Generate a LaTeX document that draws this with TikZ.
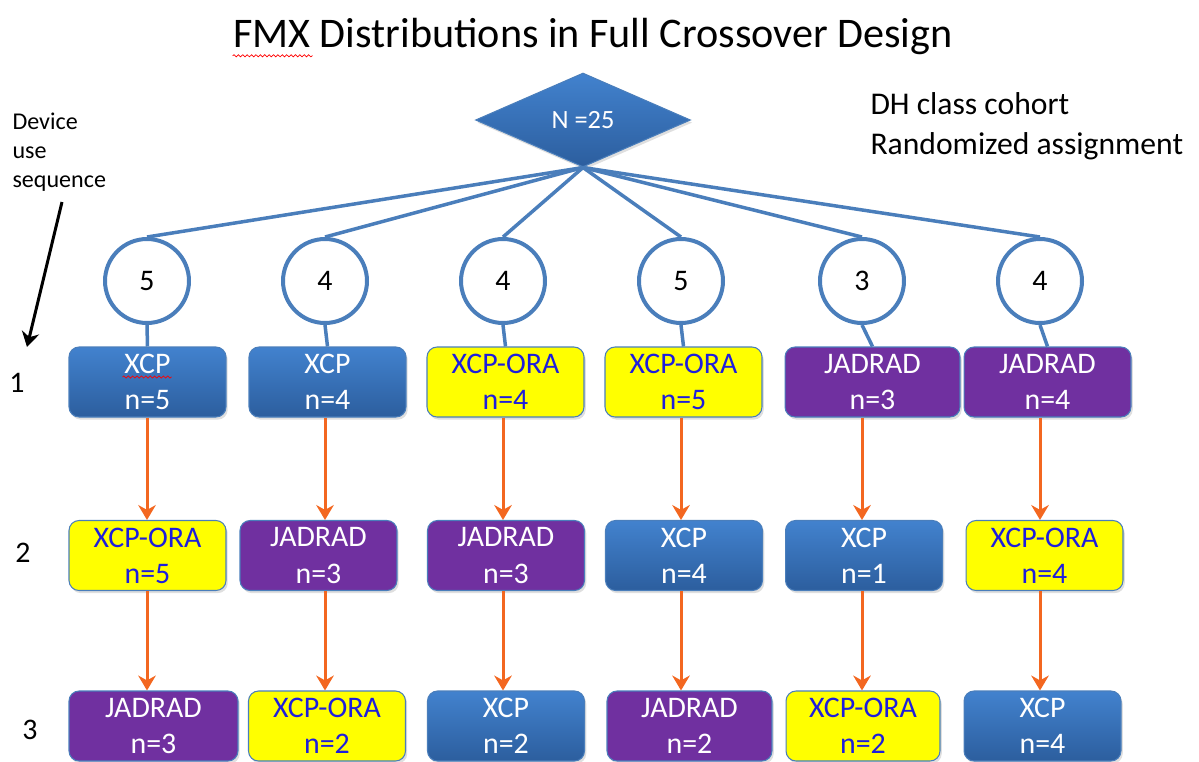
\documentclass[tikz,border=0pt]{standalone}
\usepackage{fontspec}
\setmainfont{Carlito}
\usetikzlibrary{arrows.meta, positioning, shapes.geometric, shadows, decorations.pathmorphing}

\definecolor{lineblue}{RGB}{74,126,187}
\definecolor{boxtop}{RGB}{66,130,206}
\definecolor{boxbot}{RGB}{44,94,158}
\definecolor{jadpurple}{RGB}{112,48,160}
\definecolor{orayellow}{RGB}{255,255,0}
\definecolor{oratext}{RGB}{30,30,220}
\definecolor{arroworange}{RGB}{243,103,32}

\begin{document}
\begin{tikzpicture}[
            > = {Stealth[length=8.5pt, width=10pt]},
            x = 0.02cm, y = -0.02cm,
            semithick
        ]
        \tikzstyle{every node}=[font=\fontsize{17}{20.5}\selectfont]
        \tikzstyle{device}=[
            rectangle,
            rounded corners = 0.2cm,
            draw = lineblue,
            line width = 0.6pt,
            minimum width = 3.14cm,
            minimum height = 1.4cm,
            inner sep = 0pt,
            align = center,
            drop shadow = {opacity=0.25, shadow xshift=1pt, shadow yshift=-1.5pt}
        ]
        \tikzstyle{xcpbox}=[device, top color=boxtop, bottom color=boxbot, text=white]
        \tikzstyle{orabox}=[device, fill=orayellow, text=oratext]
        \tikzstyle{jadbox}=[device, fill=jadpurple, text=white]
        \tikzstyle{arm}=[
            circle,
            draw = lineblue,
            line width = 0.08cm,
            fill = white,
            minimum size = 1.68cm,
            inner sep = 0pt
        ]
        \tikzstyle{total}=[
            diamond,
            draw = lineblue,
            top color = boxtop,
            bottom color = boxbot,
            text = white,
            minimum width = 4.3cm,
            minimum height = 1.88cm,
            inner sep = 0pt,
            font = \fontsize{15}{18}\selectfont,
            drop shadow = {opacity=0.25, shadow xshift=1pt, shadow yshift=-1.5pt}
        ]
        \tikzstyle{fanline}=[draw=lineblue, line width=0.07cm]
        \tikzstyle{seq}=[->, draw=arroworange, line width=0.06cm]
        \tikzstyle{typo}=[red, line width=0.4pt, decorate,
            decoration={snake, amplitude=0.6pt, segment length=2.5pt}]

        \useasboundingbox (0,0) rectangle (1199,761);

        % title and notes
        \node[font=\fontsize{24}{29}\selectfont, inner sep=0pt, anchor=base] (title) at (593,47)
            {FMX Distributions in Full Crossover Design};
        \draw[typo] ([yshift=-5pt]title.base west) -- ++(80,0);
        \node[align=left, anchor=north west, inner sep=0pt, font=\fontsize{18}{22.8}\selectfont]
            (cohort) at (870,92) {DH class cohort\\Randomized assignment};
        \node[align=left, anchor=north west, inner sep=0pt, font=\fontsize{13.7}{16.5}\selectfont]
            (dev) at (12,112) {Device\\use\\sequence};
        \coordinate (devtail) at (62,202);
        \coordinate (devtip) at (27,347);
        \draw[->, line width=0.06cm] (devtail) -- (devtip);

        % sequence numbers
        \node (s1) at (17,383) {1};
        \node (s2) at (23,553) {2};
        \node (s3) at (30,730) {3};

        % randomization
        \node[total] (N) at (583,120) {N =25};
        \node[arm] (a1) at (147,281) {5};
        \node[arm] (a2) at (325,281) {4};
        \node[arm] (a3) at (503,281) {4};
        \node[arm] (a4) at (681,281) {5};
        \node[arm] (a5) at (862,281) {3};
        \node[arm] (a6) at (1040,281) {4};

        % first device
        \node[xcpbox] (r1c1) at (147.5,382) {XCP\\n=5};
        \node[xcpbox] (r1c2) at (327.5,382) {XCP\\n=4};
        \node[orabox] (r1c3) at (505.5,382) {XCP-ORA\\n=4};
        \node[orabox] (r1c4) at (683.5,382) {XCP-ORA\\n=5};
        \node[jadbox, minimum width=3.5cm] (r1c5) at (872.5,382) {JADRAD\\n=3};
        \node[jadbox, minimum width=3.34cm] (r1c6) at (1047.5,382) {JADRAD\\n=4};
        \draw[typo] ([shift={(-25,-5)}]r1c1.center) -- ++(49,0);

        % second device
        \node[orabox] (r2c1) at (147.5,555.5) {XCP-ORA\\n=5};
        \node[jadbox] (r2c2) at (318.5,555.5) {JADRAD\\n=3};
        \node[jadbox] (r2c3) at (506,555.5) {JADRAD\\n=3};
        \node[xcpbox] (r2c4) at (684,555.5) {XCP\\n=4};
        \node[xcpbox] (r2c5) at (864,555.5) {XCP\\n=1};
        \node[orabox] (r2c6) at (1044.5,555.5) {XCP-ORA\\n=4};

        % third device
        \node[jadbox, minimum width=3.38cm] (r3c1) at (153.5,726) {JADRAD\\n=3};
        \node[orabox] (r3c2) at (327,726) {XCP-ORA\\n=2};
        \node[xcpbox] (r3c3) at (506,726) {XCP\\n=2};
        \node[jadbox, minimum width=3.3cm] (r3c4) at (689.5,726) {JADRAD\\n=2};
        \node[orabox, minimum width=3.08cm] (r3c5) at (863,726) {XCP-ORA\\n=2};
        \node[xcpbox] (r3c6) at (1042.5,726) {XCP\\n=4};

        \foreach \i in {1,...,6} {
            \draw[fanline] (N.south) -- (a\i.north);
            \draw[fanline] (a\i.south) -- (r1c\i.north);
            \draw[seq] (r1c\i.south -| a\i) -- (r2c\i.north -| a\i);
            \draw[seq] (r2c\i.south -| a\i) -- (r3c\i.north -| a\i);
        }
\end{tikzpicture}
\end{document}
